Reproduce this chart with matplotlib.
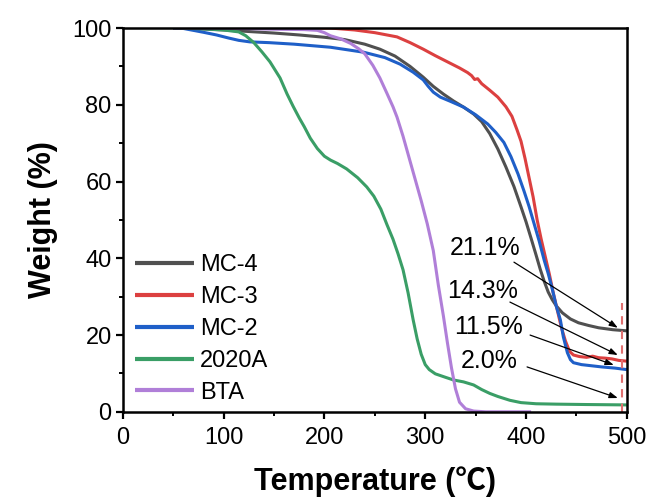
import matplotlib
matplotlib.use("Agg")
import matplotlib.pyplot as plt
from matplotlib.ticker import MultipleLocator

plt.rcParams['font.family'] = ['Liberation Sans', 'Noto Sans CJK SC', 'DejaVu Sans']

# ---- data ----
t_mc4 = [50, 75, 100, 125, 150, 175, 200, 220, 240, 255, 270, 285, 298, 308, 318, 328, 338, 348, 356, 364, 372, 380, 388, 395,
         400, 405, 410, 414, 418, 422, 426, 430, 436, 444, 452, 462, 472, 486, 500]
w_mc4 = [100, 99.8, 99.5, 99.1, 98.7, 98.2, 97.6, 97.0, 95.8, 94.5, 92.7, 90.0, 87.2, 84.8, 82.8, 81.0, 79.4, 77.6, 75.6, 72.5,
         68.5, 63.8, 58.7, 53.4, 49.5, 45.2, 40.8, 37.2, 34.0, 31.2, 29.2, 27.6, 25.8, 24.2, 23.2, 22.5, 21.9, 21.4, 21.1]

t_mc3 = [50, 150, 206, 230, 250, 272, 285, 298, 310, 322, 334, 342, 346, 349, 352, 356, 364, 372, 380, 386, 391, 395, 399,
         403, 407, 411, 415, 419, 423, 427, 431, 435, 439, 443, 447, 453, 460, 466, 472, 478, 485, 492, 500]
w_mc3 = [100, 100, 100, 99.5, 98.8, 97.7, 96.2, 94.5, 92.8, 91.2, 89.6, 88.4, 87.6, 86.6, 86.8, 85.5, 83.8, 82.0, 79.5, 77.0,
         73.5, 70.5, 66.0, 61.0, 56.0, 50.0, 45.0, 40.5, 36.0, 31.0, 26.5, 22.0, 18.5, 15.8, 14.8, 14.4, 14.2, 14.5, 14.1,
         14.0, 13.8, 13.4, 13.2]

t_mc2 = [50, 60, 70, 80, 93, 105, 115, 126, 145, 170, 206, 239, 260, 275, 288, 298, 303, 308, 315, 325, 338, 350, 362, 370,
         378, 385, 392, 398, 403, 408, 413, 418, 422, 426, 430, 434, 437, 441, 444, 447, 455, 465, 475, 488, 500]
w_mc2 = [100, 99.9, 99.4, 98.9, 98.2, 97.4, 96.8, 96.4, 96.2, 95.8, 95.0, 93.7, 92.3, 90.6, 88.5, 86.5, 84.8, 83.3, 82.0,
         80.9, 79.4, 77.4, 75.0, 72.8, 70.2, 66.5, 62.0, 57.5, 53.5, 49.0, 44.5, 39.5, 36.0, 32.0, 27.5, 24.0, 19.5, 15.4,
         13.6, 12.8, 12.3, 12.0, 11.7, 11.4, 11.0]

t_2020a = [50, 80, 100, 115, 122, 130, 138, 146, 156, 163, 169, 175, 180, 186, 193, 200, 206, 213, 222, 233, 242, 249, 256,
           262, 268, 273, 278, 283, 288, 292, 296, 300, 304, 310, 320, 328, 338, 348, 356, 364, 372, 384, 395, 410, 430,
           460, 500]
w_2020a = [100, 99.8, 99.5, 99.0, 98.0, 96.2, 93.8, 91.2, 87.0, 82.8, 79.6, 76.6, 74.3, 71.3, 68.6, 66.6, 65.6, 64.7, 63.3,
           61.0, 58.6, 56.2, 52.8, 48.8, 45.0, 41.2, 37.0, 31.0, 24.0, 19.0, 15.0, 12.3, 11.0, 9.9, 9.0, 8.3, 7.8, 7.0, 5.8,
           4.8, 4.0, 3.0, 2.4, 2.1, 2.0, 1.9, 1.8]

t_bta = [50, 100, 150, 180, 193, 200, 206, 216, 226, 234, 240, 248, 255, 262, 268, 272, 278, 284, 290, 296, 302, 308, 313,
         318, 322, 326, 330, 334, 340, 348, 360, 405]
w_bta = [100, 100, 99.7, 99.6, 99.4, 98.8, 98.0, 97.2, 96.0, 94.6, 93.3, 90.3, 87.0, 83.0, 79.5, 76.8, 71.8, 66.2, 60.6,
         55.0, 49.0, 42.0, 33.0, 25.0, 18.0, 11.5, 6.0, 2.5, 0.8, 0.2, 0.0, 0.0]

series_names = ['MC-4', 'MC-3', 'MC-2', '2020A', 'BTA']
series_colors = ['#505050', '#dc4040', '#1f5fc8', '#3a9e66', '#b07fd8']

residue_labels = ['21.1%', '14.3%', '11.5%', '2.0%']

# ---- figure ----
fig = plt.figure(figsize=(6.53, 5.01), dpi=100)
ax = fig.add_axes([0.188, 0.178, 0.772, 0.766])

series_t = [t_mc4, t_mc3, t_mc2, t_2020a, t_bta]
series_w = [w_mc4, w_mc3, w_mc2, w_2020a, w_bta]
for t, w, name, c in zip(series_t, series_w, series_names, series_colors):
    ax.plot(t, w, color=c, lw=2.2, label=name, solid_capstyle='butt', solid_joinstyle='round')

ax.set_xlim(0, 500)
ax.set_ylim(0, 100)

# dashed marker line near 495
ax.plot([495, 495], [0, 28.4], color='#e07070', lw=1.5, dashes=(4, 3))

# annotations
text_pos = [(359, 42.7), (357, 31.5), (363, 22.0), (363, 13.3)]
arrow_start = [(388, 39), (384, 28.6), (404, 20), (401, 11.7)]
arrow_end = [(491, 21.9), (491, 14.8), (487, 12.2), (491, 3.6)]
for lab, tp, s, e in zip(residue_labels, text_pos, arrow_start, arrow_end):
    ax.text(tp[0], tp[1], lab, fontsize=18, ha='center', va='center')
    ax.annotate('', xy=e, xytext=s,
                arrowprops=dict(arrowstyle='-|>,head_length=0.5,head_width=0.18',
                                color='black', lw=0.9, shrinkA=0, shrinkB=0))

# axes styling
for sp in ax.spines.values():
    sp.set_linewidth(1.8)
ax.xaxis.set_major_locator(MultipleLocator(100))
ax.xaxis.set_minor_locator(MultipleLocator(50))
ax.yaxis.set_major_locator(MultipleLocator(20))
ax.yaxis.set_minor_locator(MultipleLocator(10))
ax.tick_params(which='major', direction='out', length=5, width=1.6, labelsize=17)
ax.tick_params(axis='x', which='major', pad=6)
ax.tick_params(axis='y', which='major', pad=3)
ax.tick_params(which='minor', direction='out', length=3, width=1.4)
ax.tick_params(top=False, right=False)

ax.set_xlabel('Temperature (℃)', fontsize=22, fontweight='bold', labelpad=12)
ax.set_ylabel('Weight (%)', fontsize=22, fontweight='bold', labelpad=10)

leg = ax.legend(loc='center left', bbox_to_anchor=(0.024, 0.216), frameon=False,
                fontsize=17, handlelength=2.5, handletextpad=0.25, labelspacing=0.42,
                borderaxespad=0, borderpad=0)
for h in leg.get_lines():
    h.set_linewidth(3)

fig.savefig('out.png', dpi=100)
